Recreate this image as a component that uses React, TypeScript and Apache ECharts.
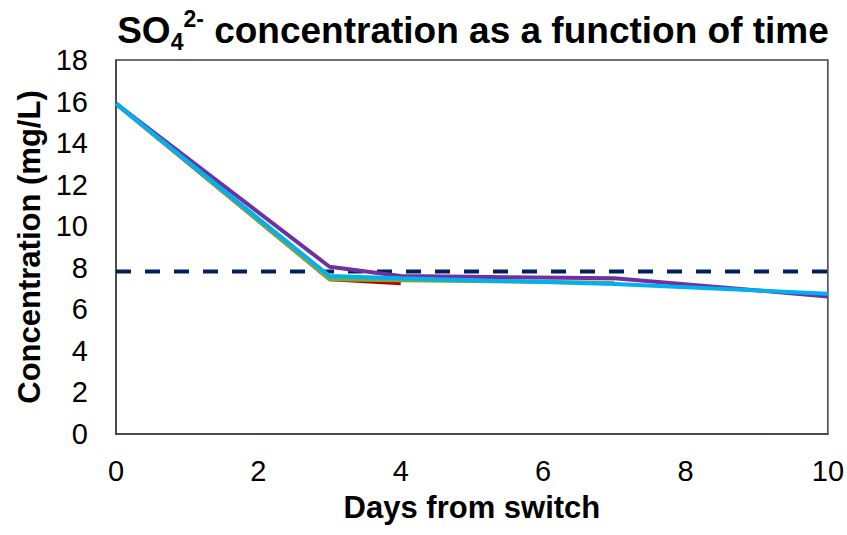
import React, { useEffect, useRef } from "react";
import * as echarts from "echarts";

const days = [0, 3, 4, 7, 10];
const redValues: (number | null)[] = [15.9, 7.45, 7.25, null, null];
const greenValues: (number | null)[] = [15.9, 7.45, 7.4, 7.28, null];
const purpleValues: (number | null)[] = [15.9, 8.05, 7.6, 7.5, 6.62];
const cyanValues: (number | null)[] = [15.9, 7.6, 7.5, 7.22, 6.75];
const limitValue = 7.82;
const limitDays = [0, 10];

const toPairs = (vals: (number | null)[]) =>
  days.map((d, i) => [d, vals[i]]).filter((p) => p[1] !== null);

export default function App() {
  const ref = useRef<HTMLDivElement>(null);
  useEffect(() => {
    if (!ref.current) return;
    const chart = echarts.init(ref.current, undefined, { renderer: "svg" });
    const font = "'Liberation Sans', Arial, sans-serif";
    const lineSeries = (name: string, color: string, vals: (number | null)[]) => ({
      name,
      type: "line",
      data: toPairs(vals),
      symbol: "none",
      lineStyle: { color, width: 4 },
      itemStyle: { color },
    });
    chart.setOption({
      animation: false,
      textStyle: { fontFamily: font },
      title: {
        text: "{b|SO}{sub|4}{sup|2-}{b| concentration as a function of time}",
        left: 468,
        top: 2,
        textAlign: "center",
        textStyle: {
          rich: {
            b: { fontSize: 37, fontWeight: "bold", color: "#000", fontFamily: font, lineHeight: 46, verticalAlign: "middle" },
            sub: { fontSize: 23, fontWeight: "bold", color: "#000", fontFamily: font, lineHeight: 46, verticalAlign: "bottom" },
            sup: { fontSize: 23, fontWeight: "bold", color: "#000", fontFamily: font, lineHeight: 46, verticalAlign: "top" },
          },
        },
      },
      grid: {
        left: 116,
        right: 18,
        top: 60,
        bottom: 101,
        show: true,
        borderColor: "#404040",
        borderWidth: 1.5,
        containLabel: false,
      },
      xAxis: {
        type: "value",
        min: 0,
        max: 10,
        interval: 2,
        name: "Days from switch",
        nameLocation: "middle",
        nameGap: 58,
        nameTextStyle: { fontSize: 31, fontWeight: "bold", color: "#000", fontFamily: font },
        axisLine: { show: true, lineStyle: { color: "#404040", width: 1.5 } },
        axisTick: { show: false },
        splitLine: { show: false },
        axisLabel: { fontSize: 29, color: "#000", margin: 22, fontFamily: font },
      },
      yAxis: {
        type: "value",
        min: 0,
        max: 18,
        interval: 2,
        name: "Concentration (mg/L)",
        nameLocation: "middle",
        nameGap: 70,
        nameRotate: 90,
        nameTextStyle: { fontSize: 31, fontWeight: "bold", color: "#000", fontFamily: font },
        axisLine: { show: true, lineStyle: { color: "#404040", width: 1.5 } },
        axisTick: { show: false },
        splitLine: { show: false },
        axisLabel: { fontSize: 29, color: "#000", margin: 28, fontFamily: font },
      },
      series: [
        {
          name: "limit",
          type: "line",
          data: limitDays.map((d) => [d, limitValue]),
          symbol: "none",
          lineStyle: { color: "#002060", width: 4, type: [15, 14] },
          z: 1,
        },
        lineSeries("red", "#C00000", redValues),
        lineSeries("green", "#70AD47", greenValues),
        lineSeries("purple", "#7030A0", purpleValues),
        lineSeries("cyan", "#00B0F0", cyanValues),
      ],
    });
    return () => chart.dispose();
  }, []);
  return (
    <div
      ref={ref}
      style={{ position: "fixed", left: 0, top: 0, width: 847, height: 535, background: "#fff" }}
    />
  );
}
